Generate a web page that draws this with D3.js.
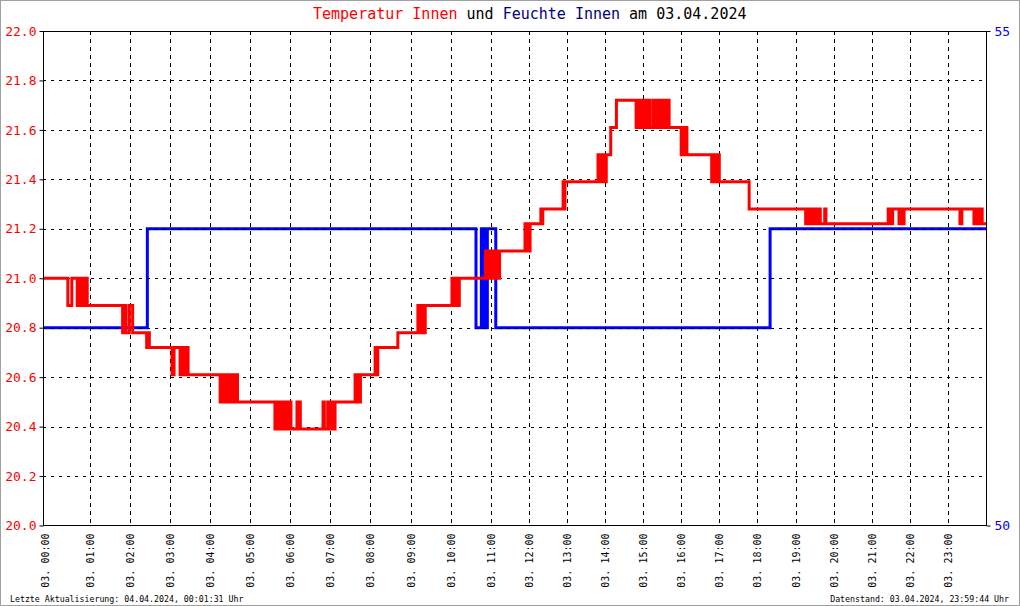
<!DOCTYPE html>
<html><head><meta charset="utf-8">
<script src="https://cdn.jsdelivr.net/npm/d3@7"></script>
<style>
html,body{margin:0;padding:0;background:#fff;}
svg{display:block;}
text{font-family:"DejaVu Sans Mono",monospace;}
</style></head>
<body>
<svg id="chart" width="1020" height="606"></svg>
<script>
// ---- data (minutes since 00:00, values) ----
const tempMinutes = [-10,27,33,41,43,45,47,49,51,53,55,56,109,112,114,119,124,145,147,149,183,186,195,198,201,204,207,
 255,259,262,266,269,273,276,279,281,337,341,345,349,353,357,361,370,372,374,375,409,411,416,418,421,424,427,
 457,459,461,463,465,487,489,491,521,551,553,556,559,562,602,604,607,610,613,652,654,657,659,661,664,667,670,674,
 714,716,718,720,722,739,741,742,774,776,777,829,832,835,838,842,849,858,889,891,893,895,897,899,901,904,906,909,911,
 916,918,920,922,924,926,928,930,932,934,936,938,940,941,960,962,965,967,969,1008,1010,1012,1014,1016,1018,1020,1067,
 1156,1158,1160,1163,1165,1168,1170,1173,1175,1177,1179,1186,1188,1286,1290,1293,1303,1306,1308,1311,1399,1402,
 1421,1425,1429,1431,1434,1440];
const tempValues = [21.00,20.89,21.00,20.89,21.00,20.89,21.00,20.89,21.00,20.89,21.00,20.89,20.78,20.89,20.78,20.89,20.78,20.72,20.78,20.72,20.61,20.72,20.61,20.72,20.61,20.72,20.61,
 20.50,20.61,20.50,20.61,20.50,20.61,20.50,20.61,20.50,20.39,20.50,20.39,20.50,20.39,20.50,20.39,20.50,20.39,20.50,20.39,20.50,20.39,20.50,20.39,20.50,20.39,20.50,
 20.61,20.50,20.61,20.50,20.61,20.72,20.61,20.72,20.78,20.89,20.78,20.89,20.78,20.89,21.00,20.89,21.00,20.89,21.00,21.11,21.00,21.11,21.00,21.11,21.00,21.11,21.00,21.11,
 21.22,21.11,21.22,21.11,21.22,21.28,21.22,21.28,21.39,21.28,21.39,21.50,21.39,21.50,21.39,21.50,21.61,21.72,21.61,21.72,21.61,21.72,21.61,21.72,21.61,21.72,21.61,21.72,21.61,
 21.72,21.61,21.72,21.61,21.72,21.61,21.72,21.61,21.72,21.61,21.72,21.61,21.72,21.61,21.50,21.61,21.50,21.61,21.50,21.39,21.50,21.39,21.50,21.39,21.50,21.39,21.28,
 21.22,21.28,21.22,21.28,21.22,21.28,21.22,21.28,21.22,21.28,21.22,21.28,21.22,21.28,21.22,21.28,21.22,21.28,21.22,21.28,21.22,21.28,
 21.22,21.28,21.22,21.28,21.22,21.22];

const humMinutes = [-10,146,638,646,647,649,650,652,653,655,668,1100,1440];
const humValues  = [52,53,52,53,52,53,52,53,52,53,52,53,53];

const hourTicks = d3.range(0,24);
const tempTicks = [20.0,20.2,20.4,20.6,20.8,21.0,21.2,21.4,21.6,21.8,22.0];
const humTicks = [50,55];

const titleParts = [["Temperatur Innen","#ff0000"],[" und ","#000000"],["Feuchte Innen","#000080"],[" am 03.04.2024","#000000"]];
const footerLeft = "Letzte Aktualisierung: 04.04.2024, 00:01:31 Uhr";
const footerRight = "Datenstand: 03.04.2024, 23:59:44 Uhr";

// ---- layout ----
const L=43, R=986, T=31, B=525.5;
const svg = d3.select("#chart");

svg.append("rect").attr("x",0.5).attr("y",0.5).attr("width",1019).attr("height",605)
  .attr("fill","#fff").attr("stroke","#a0a0a0").attr("stroke-width",1);

const x = d3.scaleLinear().domain([-10.2,660,1440]).range([L,490.7,R]);
const y = d3.scaleLinear().domain([20,22]).range([B,T]);
const y2 = d3.scaleLinear().domain([50,55]).range([B,T]);

// humidity line (under grid)
const humData = humMinutes.map((m,i)=>[m,humValues[i]]);
svg.append("path").datum(humData)
  .attr("fill","none").attr("stroke","#0000ff").attr("stroke-width",3)
  .attr("d", d3.line().x(d=>x(d[0])).y(d=>y2(d[1])).curve(d3.curveStepAfter));

// grid
svg.append("g").selectAll("line").data(hourTicks.filter(h=>h>0)).join("line")
  .attr("x1",h=>Math.round(x(h*60))+0.5).attr("x2",h=>Math.round(x(h*60))+0.5)
  .attr("y1",T).attr("y2",B)
  .attr("stroke","#000").attr("stroke-width",1).attr("stroke-dasharray","4,4")
  .attr("shape-rendering","crispEdges");
svg.append("g").selectAll("line").data(tempTicks.slice(1,-1)).join("line")
  .attr("x1",L).attr("x2",R)
  .attr("y1",v=>Math.round(y(v))+0.5).attr("y2",v=>Math.round(y(v))+0.5)
  .attr("stroke","#000").attr("stroke-width",1).attr("stroke-dasharray","3,5")
  .attr("shape-rendering","crispEdges");

// temperature line
const tempData = tempMinutes.map((m,i)=>[m,tempValues[i]]);
svg.append("path").datum(tempData)
  .attr("fill","none").attr("stroke","#ff0000").attr("stroke-width",3)
  .attr("d", d3.line().x(d=>x(d[0])).y(d=>y(d[1])).curve(d3.curveStepAfter));

// frame
svg.append("rect").attr("x",L+0.5).attr("y",T+0.5).attr("width",R-L).attr("height",B-T-0.5)
  .attr("fill","none").attr("stroke","#000").attr("stroke-width",1).attr("shape-rendering","crispEdges");

// axes
const yAxis = svg.append("g").attr("transform",`translate(${L+0.5},0)`)
  .call(d3.axisLeft(y).tickValues(tempTicks).tickFormat(d3.format(".1f")).tickSize(4).tickPadding(3));
yAxis.select(".domain").remove();
yAxis.selectAll("text").attr("fill","#ff0000").style("font-size","13px").style("font-family","'DejaVu Sans Mono',monospace");
yAxis.selectAll("line").attr("stroke","#000");

const y2Axis = svg.append("g").attr("transform",`translate(${R+0.5},0)`)
  .call(d3.axisRight(y2).tickValues(humTicks).tickFormat(d3.format("d")).tickSize(4).tickPadding(4));
y2Axis.select(".domain").remove();
y2Axis.selectAll("text").attr("fill","#0000ff").style("font-size","13px").style("font-family","'DejaVu Sans Mono',monospace");
y2Axis.selectAll("line").attr("stroke","#000");

const xAxis = svg.append("g").attr("transform",`translate(0,${B})`)
  .call(d3.axisBottom(x).tickValues(hourTicks.map(h=>h*60))
    .tickFormat(m=>"03. "+String(m/60).padStart(2,"0")+":00").tickSize(0));
xAxis.select(".domain").remove();
xAxis.selectAll("text")
  .attr("transform","rotate(-90)").attr("x",-8).attr("y",0).attr("dy","0.35em")
  .attr("text-anchor","end").attr("fill","#000")
  .style("font-size","10px").style("font-family","'DejaVu Sans Mono',monospace");
// first label sits next to the axis line in the reference
xAxis.selectAll(".tick").filter(m=>m===0).attr("transform",`translate(${L+2},0)`);

// title
const title = svg.append("text").attr("x",313).attr("y",19).style("font-size","15px").attr("xml:space","preserve");
titleParts.forEach(p=>title.append("tspan").attr("fill",p[1]).text(p[0]));

// footers
svg.append("text").attr("x",10).attr("y",602).style("font-size","8.25px").attr("fill","#000").text(footerLeft);
svg.append("text").attr("x",1009).attr("y",602).attr("text-anchor","end").style("font-size","8.25px").attr("fill","#000").text(footerRight);
</script>
</body></html>
